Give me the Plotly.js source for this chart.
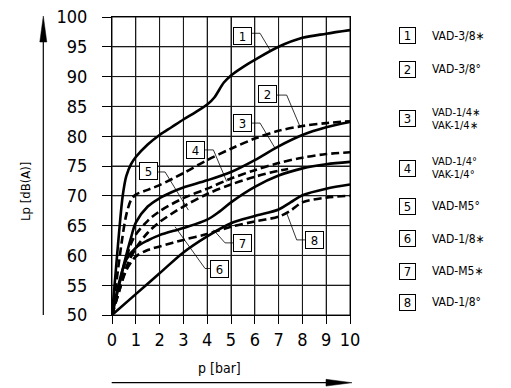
<!DOCTYPE html>
<html><head><meta charset="utf-8">
<script src="https://cdn.plot.ly/plotly-3.0.1.min.js"></script>
<style>html,body{margin:0;padding:0;background:#fff}#chart{width:511px;height:388px}</style>
</head><body><div id="chart"></div>
<script>
// ---- data ----
const seriesNumbers = ['1','2','3','4','5','6','7','8'];
const seriesNames = ['VAD-3/8∗','VAD-3/8°','VAD-1/4∗<br>VAK-1/4∗','VAD-1/4°<br>VAK-1/4°','VAD-M5°','VAD-1/8∗','VAD-M5∗','VAD-1/8°'];
const seriesDash = ['solid','8px,4px','solid','8px,4px','8px,4px','solid','solid','8px,4px'];

const p1  = [0,0.15,0.3,0.45,0.6,0.8,1,1.5,2,2.5,3,3.5,4,4.3,4.7,5,5.5,6,7,8,9,10];
const lp1 = [50,57,64,70,73.3,75.3,76.5,78.6,80.2,81.5,82.8,84,85.3,86.5,89,90.2,91.6,92.8,95,96.5,97.2,97.8];
const p2  = [0,0.2,0.4,0.6,0.8,1,1.5,2,3,4,5,6,7,8,9,10];
const lp2 = [50,56,62,66.8,69.3,70.2,71,71.8,73.8,76,77.9,79.6,80.9,81.7,82.2,82.5];
const p3  = [0,0.3,0.5,0.8,1,1.5,2,2.5,3,4,5,6,7,8,9,10];
const lp3 = [50,55,58.5,63,65.5,68.2,69.6,70.6,71.4,72.6,74,76,78.3,80.2,81.5,82.4];
const p4  = [0,0.3,0.6,0.8,1,1.5,2,3,4,5,6,7,8,9,10];
const lp4 = [50,55,59.5,62,63.5,65.8,67.4,69.6,71.2,72.9,74.3,75.5,76.4,77,77.3];
const p5  = [0,0.3,0.6,1,1.5,2,3,4,5,6,7,7.4];
const lp5 = [50,54,58,61.2,63.8,65.6,68.2,70.3,71.9,73.2,74.2,74.5];
const p6  = [0,0.3,0.6,1,1.5,2,3,4,4.5,5,6,7,8,9,10];
const lp6 = [50,55.5,59.3,61.3,62.5,63.4,64.6,66,67.3,68.9,71.5,73.4,74.6,75.3,75.7];
const p7  = [0,1,2,3,4,5,6,7,7.5,8,9,10];
const lp7 = [50,53.5,57,60.5,63.2,65.4,66.6,67.7,68.9,70.1,71.2,71.9];
const p8  = [0,0.3,0.6,1,1.5,2,3,4,5,6,7,7.5,8,9,10];
const lp8 = [50,54,57.5,59.8,60.9,61.5,62.6,63.6,64.8,65.7,66.5,67.5,68.9,69.7,70];

const xTicks = [0,1,2,3,4,5,6,7,8,9,10];
const yTicks = [50,55,60,65,70,75,80,85,90,95,100];

// in-plot label boxes (data coords) and their leader lines
const labelPos = [[5.48,96.85],[6.53,87.1],[5.48,82.2],[3.52,77.7],[1.53,74.2],[4.52,57.8],[5.48,62.1],[8.52,62.55]];
const leaders = [
  [[5.87,97.27],[6.22,97.27],[6.64,94.46]],
  [[6.92,86.9],[7.34,86.9],[7.90,81.6]],
  [[5.87,82.2],[6.22,82.2],[6.85,78.0]],
  [[3.91,77.7],[4.26,77.7],[4.82,72.4]],
  [[1.88,74.0],[2.23,74.0],[3.21,67.6]],
  [[4.15,57.8],[3.91,57.8],[2.65,64.8]],
  [[5.10,62.1],[4.75,62.1],[4.26,64.3]],
  [[8.15,62.6],[7.76,62.6],[7.34,67.1]]
];
// legend rows (pixel y centres)
const legendY = [36,69,119,168,206,239,271,302];

const FONT = 'DejaVu Sans Condensed, DejaVu Sans, sans-serif';
const PX = [p1,p2,p3,p4,p5,p6,p7,p8];
const PY = [lp1,lp2,lp3,lp4,lp5,lp6,lp7,lp8];

const traces = PX.map((x,i)=>({
  x: x, y: PY[i], type:'scatter', mode:'lines', name: seriesNames[i],
  line:{color:'#000', width:2.6, dash: seriesDash[i], shape:'spline', smoothing:0.9},
  hoverinfo:'skip'
}));

const L=112, R=350, T=17, B=315;
const py2paper = py => (B-py)/(B-T);
const px2paper = px => (px-L)/(R-L);

const annotations = [];
const shapes = [];
// grid lines from the tick arrays
xTicks.forEach(t=>shapes.push({type:'line', layer:'below', xref:'x', yref:'paper', x0:t, x1:t, y0:0, y1:1, line:{color:'#1a1a1a', width:1}}));
yTicks.forEach(t=>shapes.push({type:'line', layer:'below', xref:'paper', yref:'y', x0:0, x1:1, y0:t, y1:t, line:{color:'#1a1a1a', width:1}}));

labelPos.forEach((pos,i)=>{
  annotations.push({x:pos[0], y:pos[1], xref:'x', yref:'y', xanchor:'center', yanchor:'middle', text:seriesNumbers[i], showarrow:false,
    font:{family:FONT, size:13, color:'#000'}, bgcolor:'#fff', bordercolor:'#000', borderwidth:1,
    borderpad:1, width:15, height:14});
  const pts = leaders[i];
  shapes.push({type:'path', xref:'x', yref:'y', path:'M'+pts.map(p=>p[0]+','+p[1]).join(' L'),
    line:{color:'#000', width:0.8}});
});
legendY.forEach((py,i)=>{
  annotations.push({x:px2paper(407), y:py2paper(py), xref:'paper', yref:'paper', xanchor:'center', yanchor:'middle', text:seriesNumbers[i],
    showarrow:false, font:{family:FONT, size:13, color:'#000'}, bordercolor:'#000', borderwidth:1,
    borderpad:1, width:13, height:13});
  const lines = seriesNames[i].split('<br>');
  const gap = 13;
  lines.forEach((ln,k)=>{
    const off = (k-(lines.length-1)/2)*gap;
    annotations.push({x:px2paper(431), y:py2paper(py+off), xref:'paper', yref:'paper', xanchor:'left', yanchor:'middle',
      align:'left', text:ln, showarrow:false, font:{family:FONT, size:lines.length>1?11:12, color:'#000'},
      borderpad:0});
  });
});
// axis titles
annotations.push({x:px2paper(25), y:py2paper(192), xref:'paper', yref:'paper', xanchor:'center', yanchor:'middle', text:'Lp [dB(A)]',
  textangle:-90, showarrow:false, font:{family:FONT, size:13, color:'#000'}});
annotations.push({x:px2paper(219), y:py2paper(368), xref:'paper', yref:'paper', xanchor:'center', yanchor:'middle', text:'p [bar]',
  showarrow:false, font:{family:FONT, size:14, color:'#000'}});

// arrows
const ax = px2paper(43.3);
shapes.push({type:'line', xref:'paper', yref:'paper', x0:ax, x1:ax, y0:py2paper(315), y1:py2paper(40), line:{color:'#000', width:1.2}});
shapes.push({type:'path', xref:'paper', yref:'paper', fillcolor:'#000', line:{color:'#000', width:0.5},
  path:`M${ax},${py2paper(16)} L${px2paper(39.8)},${py2paper(42)} L${px2paper(46.8)},${py2paper(42)} Z`});
const ay = py2paper(382.7);
shapes.push({type:'line', xref:'paper', yref:'paper', x0:px2paper(111.7), x1:px2paper(328), y0:ay, y1:ay, line:{color:'#000', width:1.2}});
shapes.push({type:'path', xref:'paper', yref:'paper', fillcolor:'#000', line:{color:'#000', width:0.5},
  path:`M${px2paper(352)},${ay} L${px2paper(326)},${py2paper(379.3)} L${px2paper(326)},${py2paper(386.1)} Z`});

const axisCommon = {
  showgrid:true, gridcolor:'#1a1a1a', gridwidth:1, zeroline:false,
  showline:true, linecolor:'#000', linewidth:1, mirror:true,
  ticks:'outside', tickwidth:1, tickcolor:'#000',
  tickfont:{family:FONT, size:18, color:'#000'}, fixedrange:true
};
const layout = {
  width:511, height:388, margin:{l:L, r:511-R, t:T, b:388-B},
  paper_bgcolor:'#fff', plot_bgcolor:'#fff', showlegend:false,
  xaxis:Object.assign({}, axisCommon, {range:[0,10], tickmode:'array', tickvals:xTicks, ticktext:xTicks.map(String), ticklen:8, ticklabelstandoff:0}),
  yaxis:Object.assign({}, axisCommon, {range:[50,100], tickmode:'array', tickvals:yTicks, ticktext:yTicks.map(String), ticklen:9, ticklabelstandoff:11}),
  annotations: annotations, shapes: shapes
};
Plotly.newPlot('chart', traces, layout, {displayModeBar:false, staticPlot:true});
</script></body></html>
